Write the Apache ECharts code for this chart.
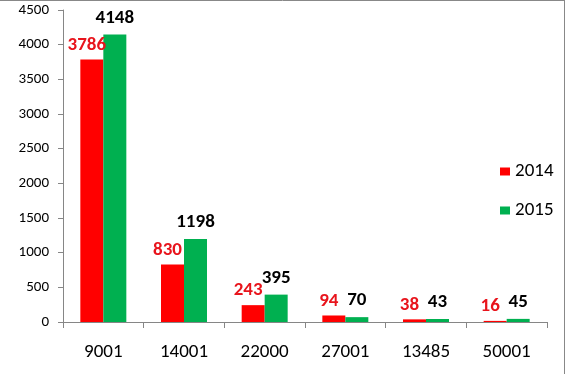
<!DOCTYPE html>
<html>
<head>
<meta charset="utf-8">
<script src="https://cdn.jsdelivr.net/npm/echarts@6/dist/echarts.min.js"></script>
<style>html,body{margin:0;padding:0;background:#fff;}#c{width:569px;height:374px;}</style>
</head>
<body>
<div id="c"></div>
<script>
const categories = ['9001', '14001', '22000', '27001', '13485', '50001'];
const values2014 = [3786, 830, 243, 94, 38, 16];
const values2015 = [4148, 1198, 395, 70, 43, 45];
const seriesNames = ['2014', '2015'];

const chart = echarts.init(document.getElementById('c'), null, {renderer: 'canvas'});
const font = 'Calibri, Carlito, "Liberation Sans", Arial, sans-serif';
chart.setOption({
  animation: false,
  textStyle: {fontFamily: font},
  graphic: [
    {type: 'line', shape: {x1: 0, y1: 0.5, x2: 565, y2: 0.5}, style: {stroke: '#888', lineWidth: 1}},
    {type: 'line', shape: {x1: 564.5, y1: 0, x2: 564.5, y2: 374}, style: {stroke: '#888', lineWidth: 1}}
  ],
  legend: {
    orient: 'vertical',
    left: 495,
    top: 157,
    itemWidth: 10,
    itemHeight: 8,
    itemGap: 20,
    icon: 'rect',
    textStyle: {fontSize: 19, color: '#000', fontFamily: font},
    data: seriesNames
  },
  grid: {left: 63, right: 22, top: 10, bottom: 52},
  xAxis: {
    type: 'category',
    data: categories,
    axisLine: {lineStyle: {color: '#868686'}},
    axisTick: {show: true, length: 6, lineStyle: {color: '#868686'}},
    axisLabel: {fontSize: 19, color: '#000', margin: 21, fontFamily: font}
  },
  yAxis: {
    type: 'value',
    min: 0,
    max: 4500,
    interval: 500,
    splitLine: {show: false},
    axisLine: {show: true, lineStyle: {color: '#868686'}},
    axisTick: {show: true, length: 5, lineStyle: {color: '#868686'}},
    axisLabel: {fontSize: 15, color: '#000', margin: 14, fontFamily: font, formatter: v => String(v)}
  },
  series: [
    {
      name: seriesNames[0],
      type: 'bar',
      data: values2014,
      barWidth: 23,
      barGap: '0%',
      itemStyle: {color: '#ff0000'},
      label: {show: true, position: 'top', distance: 5, offset: [-5, 0], fontSize: 19, fontWeight: 'bold', color: '#e8141c', fontFamily: font}
    },
    {
      name: seriesNames[1],
      type: 'bar',
      data: values2015,
      barWidth: 23,
      barGap: '0%',
      itemStyle: {color: '#00b050'},
      label: {show: true, position: 'top', distance: 7, offset: [0, 0], fontSize: 19, fontWeight: 'bold', color: '#000', fontFamily: font}
    }
  ]
});
</script>
</body>
</html>
